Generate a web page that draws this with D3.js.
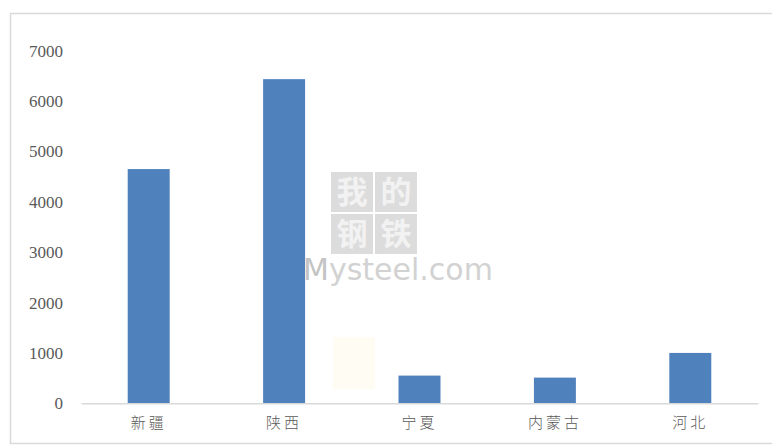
<!DOCTYPE html>
<html>
<head>
<meta charset="utf-8">
<script src="https://cdn.jsdelivr.net/npm/d3@7"></script>
<style>
  body { margin: 0; background: #fff; }
  svg { display: block; }
</style>
</head>
<body>
<div id="chart"></div>
<script>
// data
var regions = ["新疆", "陕西", "宁夏", "内蒙古", "河北"];
var amounts = [4650, 6435, 550, 510, 1000];
var yTicks = [0, 1000, 2000, 3000, 4000, 5000, 6000, 7000];

var W = 772, H = 445;
var margin = {top: 50.7, right: 14, bottom: 41.7, left: 81};

var svg = d3.select("#chart")
  .append("svg")
    .attr("width", W)
    .attr("height", H);

// chart frame
svg.append("rect")
  .attr("x", 10.5).attr("y", 13.5)
  .attr("width", 780).attr("height", 430)
  .attr("fill", "none")
  .attr("stroke", "#d9d9d9")
  .attr("stroke-width", 1.5);

var x = d3.scaleBand()
  .domain(regions)
  .range([margin.left, W - margin.right])
  .paddingInner(0.69)
  .paddingOuter(0.345);

var y = d3.scaleLinear()
  .domain([0, 7000])
  .range([H - margin.bottom, margin.top]);

// watermark (behind bars)
var wm = svg.append("g");
wm.append("rect").attr("x", 333).attr("y", 337).attr("width", 42).attr("height", 52)
  .attr("fill", "#fffdf3");
var chars = ["我", "的", "钢", "铁"];
chars.forEach(function(c, i) {
  var cx = 331 + (i % 2) * 44, cy = 172 + Math.floor(i / 2) * 42;
  wm.append("rect").attr("x", cx).attr("y", cy).attr("width", 42).attr("height", 40)
    .attr("fill", "#dcdcdc");
  wm.append("text").attr("x", cx + 21).attr("y", cy + 31)
    .attr("text-anchor", "middle")
    .style("font-family", "'Noto Sans CJK SC'")
    .style("font-weight", "bold")
    .style("font-size", "31px")
    .attr("fill", "#f2f2f2")
    .text(c);
});
var mt = wm.append("text").attr("x", 303).attr("y", 280)
  .style("font-family", "'DejaVu Sans'")
  .style("font-size", "30px");
mt.append("tspan").attr("fill", "#c4c4c4").text("M");
mt.append("tspan").attr("fill", "#d2d2d2").text("ysteel.com");

// y axis labels
var yAxis = svg.append("g")
  .attr("transform", "translate(" + 63 + ",0)")
  .call(d3.axisLeft(y).tickValues(yTicks).tickFormat(d3.format("d")).tickSize(0).tickPadding(0));
yAxis.select(".domain").remove();
yAxis.selectAll("text")
  .attr("fill", "#595959")
  .style("font-family", "'Liberation Serif'")
  .style("font-size", "17px");

// bars
svg.append("g")
  .selectAll("rect")
  .data(amounts)
  .enter()
  .append("rect")
    .attr("x", function(d, i) { return x(regions[i]); })
    .attr("y", function(d) { return y(d); })
    .attr("width", x.bandwidth())
    .attr("height", function(d) { return y(0) - y(d); })
    .attr("fill", "#4f81bd");

// x axis
var xAxis = svg.append("g")
  .attr("transform", "translate(0," + y(0) + ")")
  .call(d3.axisBottom(x).tickSize(0).tickPadding(14).tickSizeOuter(0));
xAxis.select(".domain")
  .attr("stroke", "#d9d9d9")
  .attr("stroke-width", 1.5);
xAxis.selectAll("text")
  .attr("fill", "#595959")
  .style("font-family", "'Noto Sans CJK SC'")
  .style("font-weight", "300")
  .style("font-size", "15px")
  .style("letter-spacing", "3px");
</script>
</body>
</html>
